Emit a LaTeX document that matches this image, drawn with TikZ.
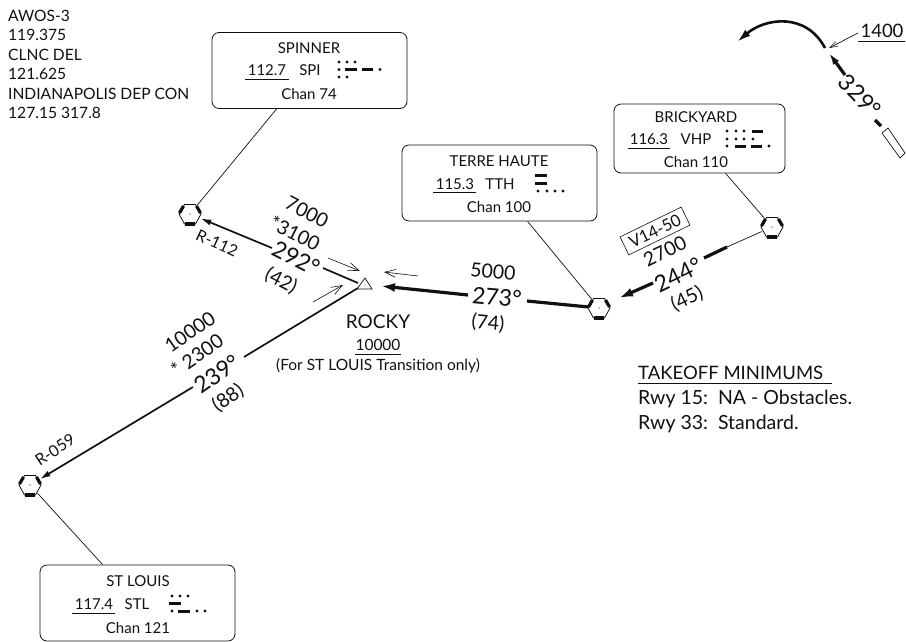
\documentclass[tikz,border=0pt]{standalone}
\usepackage{fontspec}
\setmainfont{Lato}
\usetikzlibrary{arrows.meta,calc}
\definecolor{ink}{HTML}{111111}
\tikzset{
 lab/.style={inner sep=0pt,text=ink,font=\fontsize{15}{17}\selectfont},
 biglab/.style={inner sep=0pt,text=ink,font=\fontsize{23}{26}\selectfont},
 midlab/.style={inner sep=0pt,text=ink,font=\fontsize{19.5}{22}\selectfont},
 infobox/.style={draw=ink,line width=0.8pt,rounded corners=7pt,inner sep=0pt},
 leader/.style={draw=ink,line width=0.7pt},
 route/.style={draw=ink,line width=1.7pt},
 heavy/.style={draw=ink,line width=3.2pt},
 tip/.style={-{Latex[length=11pt,width=6pt]}},
 hint/.style={draw=ink,line width=0.6pt,-{Straight Barb[length=11pt,width=8pt,line width=0.6pt]}},
 vornode/.style={circle,inner sep=0pt,minimum size=22pt},
 uline/.style={draw=ink,line width=0.7pt},
 vor/.pic={
  \draw[ink,line width=0.8pt] (-5.5,-9.5)--(5.5,-9.5)--(11,0)--(5.5,10)--(-5.5,10)--(-11,0)--cycle;
  \draw[ink,line width=3.2pt] (-5,10)--(5,10);
  \draw[ink,line width=3.2pt] (-10.5,-1)--(-6.5,-8);
  \draw[ink,line width=3.2pt] (10.5,-1)--(6.5,-8);
  \fill[ink] (0,0) circle (0.6pt);
 }
}
\newcommand{\mdot}[2]{\fill[ink] (#1,#2) circle (1.6pt);}
\newcommand{\mdash}[3]{\fill[ink] (#1,#3-1.5) rectangle (#2,#3+1.5);}
\begin{document}
\begin{tikzpicture}[x=1pt,y=-1pt]
\useasboundingbox (0,0) rectangle (906,641);
\fill[white] (0,0) rectangle (906,641);
% top-left
\tikzset{tl/.style={inner sep=0pt,anchor=west,text=ink,font=\fontsize{15.6}{17}\selectfont}}
\node[tl] (t1) at (8,16) {AWOS-3};
\node[tl] (t2) at (8,35) {119.375};
\node[tl] (t3) at (8,55) {CLNC DEL};
\node[tl] (t4) at (8,74) {121.625};
\node[tl] (t5) at (8,94) {INDIANAPOLIS DEP CON};
\node[tl] (t6) at (8,113) {127.15 317.8};
% boxes
\node[infobox,minimum width=195pt,minimum height=76pt] (spinner) at (309.5,70.5) {};
\node[infobox,minimum width=195pt,minimum height=76pt] (terre) at (499.5,183) {};
\node[infobox,minimum width=171pt,minimum height=69pt] (brick) at (699.5,138.5) {};
\node[infobox,minimum width=195pt,minimum height=76pt] (stl) at (137.5,603) {};
% spinner text
\node[lab] (s1) at (309,48) {SPINNER};
\node[lab] (s2) at (267,70) {112.7};
\node[lab] (s3) at (310,70) {SPI};
\node[lab] (s4) at (309,94) {Chan 74};
\draw[uline] (245,79)--(289,79);
\mdot{339}{62}\mdot{347}{62}\mdot{355}{62}
\mdot{339}{69.5}\mdash{345}{357}{69.5}\mdash{362}{373}{69.5}\mdot{380}{69.5}
\mdot{339}{77}\mdot{347}{77}
% terre text
\node[lab] (h1) at (499,161) {TERRE HAUTE};
\node[lab] (h2) at (455,184) {115.3};
\node[lab] (h3) at (500,184) {TTH};
\node[lab] (h4) at (499,207) {Chan 100};
\draw[uline] (433,192)--(476,192);
\mdash{535}{547}{175}
\mdash{535}{547}{183}
\mdot{538}{191}\mdot{547}{191}\mdot{555}{191}\mdot{563}{191}
% brick text
\node[lab] (b1) at (696,117) {BRICKYARD};
\node[lab] (b2) at (649,139) {116.3};
\node[lab] (b3) at (696,139) {VHP};
\node[lab] (b4) at (696,162) {Chan 110};
\draw[uline] (628,148)--(670,148);
\mdot{727}{131}\mdot{736}{131}\mdot{744}{131}\mdash{752}{763}{131}
\mdot{727}{139}\mdot{736}{139}\mdot{744}{139}\mdot{753}{139}
\mdot{727}{146}\mdash{735}{746}{146}\mdash{751}{762}{146}\mdot{769}{146}
% stl text
\node[lab] (l1) at (138,581) {ST LOUIS};
\node[lab] (l2) at (94,604) {117.4};
\node[lab] (l3) at (137,604) {STL};
\node[lab] (l4) at (138,628) {Chan 121};
\draw[uline] (72,613)--(115,613);
\mdot{172}{596}\mdot{180}{596}\mdot{188}{596}
\mdash{169}{181}{603}
\mdot{172}{611}\mdash{178}{190}{611}\mdot{197}{611}\mdot{205}{611}
% VORs
\node[vornode] (vs) at (190,214) {};
\node[vornode] (vt) at (599,308) {};
\node[vornode] (vb) at (772,227) {};
\node[vornode] (vl) at (30,485) {};
\pic at (vs) {vor};
\pic at (vt) {vor};
\pic at (vb) {vor};
\pic at (vl) {vor};
% leaders
\draw[leader] ($(spinner.south west)+(65,0)$) -- (vs);
\draw[leader] ($(terre.south west)+(126,0)$) -- (vt);
\draw[leader] ($(brick.south west)+(112,0)$) -- (vb);
\draw[leader] ($(stl.north west)+(63,0)$) -- (vl);
% rocky
\coordinate (rk) at (365,285);
\draw[ink,line width=0.7pt] (365,278)--(372,289)--(357,289)--cycle;
\fill[ink] (rk) circle (0.5pt);
\node[inner sep=0pt,text=ink,font=\fontsize{19}{22}\selectfont] (rocky) at (378,322) {ROCKY};
\node[inner sep=0pt,text=ink,font=\fontsize{15.5}{17}\selectfont] (rk2) at (378,345) {10000};
\draw[uline] (355,354)--(401,354);
\node[inner sep=0pt,text=ink,font=\fontsize{15.5}{17}\selectfont] (rk3) at (378,366) {(For ST LOUIS Transition only)};
% route spinner
\coordinate (a1) at (272,248);
\coordinate (a2) at (323,268);
\draw[route,tip] (a1) -- (vs);
\draw[route] (a2) -- (358,283);
\node[midlab,rotate=-27] (n1) at (307,212) {7000};
\node[midlab,rotate=-27] (n2) at (295,233) {*3100};
\node[biglab,rotate=-27] (n3) at (296,258) {292°};
\node[midlab,rotate=-27] (n4) at (281,281) {(42)};
\node[lab,rotate=-25,font=\fontsize{16}{18}\selectfont] (n5) at (217,243) {R-112};
% route stl
\coordinate (c1) at (244,357);
\coordinate (c2) at (193,387);
\draw[route] (358,288) -- (c1);
\draw[route,tip] (c2) -- (vl);
\node[midlab,rotate=35] (m1) at (190,332) {10000};
\node[midlab,rotate=35] (m2) at (197,355) {* 2300};
\node[biglab,rotate=35] (m3) at (217,374) {239°};
\node[midlab,rotate=35] (m4) at (228,398) {(88)};
\node[lab,rotate=33,font=\fontsize{16}{18}\selectfont] (m5) at (55,450) {R-059};
% route terre
\coordinate (d1) at (468,295);
\coordinate (d2) at (527,301);
\coordinate (d3) at (381,286);
\draw[heavy,-{Latex[length=14pt,width=9pt]}] (d1) -- (d3);
\draw[heavy] (d2) -- (vt);
\node[midlab,rotate=-5] (o1) at (493,272) {5000};
\node[biglab,rotate=-5] (o2) at (497,297) {273°};
\node[midlab,rotate=-5] (o3) at (488,323) {(74)};
% route brick
\coordinate (e1) at (727,247);
\coordinate (e2) at (704,258);
\coordinate (e3) at (653,283);
\coordinate (e4) at (619,298);
\draw[leader] (vb) -- (e1);
\draw[heavy] (e1) -- (e2);
\draw[heavy,-{Latex[length=14pt,width=9pt]}] (e3) -- (e4);
\node[draw=ink,line width=0.6pt,rotate=26,minimum width=68pt,minimum height=20pt,inner sep=0pt,font=\fontsize{16.5}{18}\selectfont,text=ink] (v14) at (655,231) {V14-50};
\node[midlab,rotate=26] (p1) at (665,251) {2700};
\node[biglab,rotate=26] (p2) at (678,275) {244°};
\node[midlab,rotate=26] (p3) at (687,299) {(45)};
% hints
\coordinate (h1a) at (328,258); \coordinate (h1b) at (360,271);
\coordinate (h2a) at (418,276); \coordinate (h2b) at (384,272);
\coordinate (h3a) at (313,302); \coordinate (h3b) at (343,285);
\draw[hint] (h1a)--(h1b);
\draw[hint] (h2a)--(h2b);
\draw[hint] (h3a)--(h3b);
% top right
\coordinate (q1) at (825,48);
\coordinate (q2) at (737,42);
\draw[ink,line width=2.6pt,-{Latex[length=14pt,width=8pt]}] (q1) .. controls (806,12) and (765,18) .. (q2);
\node[inner sep=0pt,text=ink,font=\fontsize{18.5}{20}\selectfont] (alt) at (882,31) {1400};
\draw[uline] (858,41)--(905,41);
\coordinate (alt2) at (858,33);
\coordinate (q3) at (829,48);
\draw[leader,-{Straight Barb[length=8pt,width=5pt,line width=0.5pt]}] (alt2)--(q3);
\coordinate (r1) at (845,75);
\coordinate (r2) at (829,53);
\coordinate (r3) at (875,120);
\coordinate (r4) at (881,126);
\draw[heavy,-{Latex[length=12pt,width=7pt]}] (r1)--(r2);
\draw[heavy] (r3)--(r4);
\node[biglab,rotate=-46] (hdg) at (860,96) {329°};
\draw[ink,line width=0.7pt] (882,133)--(888,128)--(905,153)--(900,158)--cycle;
% takeoff
\tikzset{tk/.style={inner sep=0pt,anchor=west,text=ink}}
\node[tk,font=\fontsize{18.5}{20}\selectfont] (k1) at (638,373) {TAKEOFF MINIMUMS};
\draw[uline] (638,383)--(832,383);
\node[tk,font=\fontsize{19.5}{21}\selectfont] (k2) at (638,399) {Rwy 15:\ \ NA - Obstacles.};
\node[tk,font=\fontsize{19.5}{21}\selectfont] (k3) at (638,424) {Rwy 33:\ \ Standard.};
\end{tikzpicture}
\end{document}
